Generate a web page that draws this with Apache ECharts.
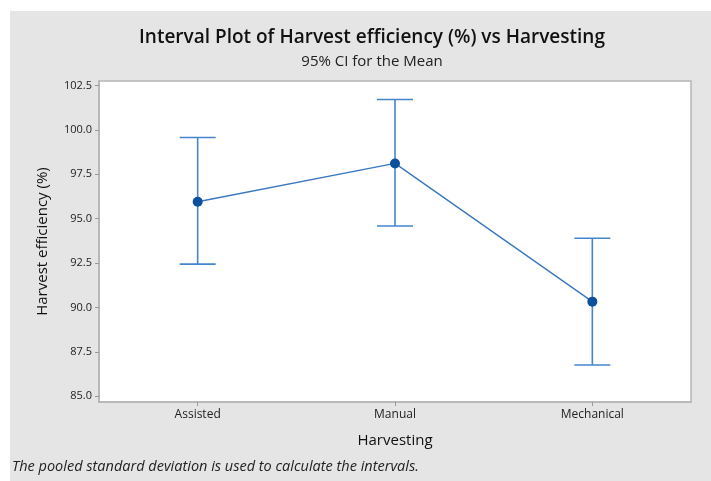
<!DOCTYPE html>
<html>
<head>
<meta charset="utf-8">
<script src="https://cdn.jsdelivr.net/npm/echarts@6/dist/echarts.min.js"></script>
<style>
  html, body { margin: 0; padding: 0; background: #fff; }
  #chart { width: 711px; height: 481px; }
</style>
</head>
<body>
<div id="chart"></div>
<script>
const categories = ["Assisted", "Manual", "Mechanical"];
const means = [95.95, 98.11, 90.33];
const lowerCI = [92.44, 94.59, 86.76];
const upperCI = [99.57, 101.71, 93.90];
const yTicks = [85, 87.5, 90, 92.5, 95, 97.5, 100, 102.5];

const fontFamily = "'Open Sans', 'Noto Sans', sans-serif";
const barColor = "#4585cb";
const lineColor = "#3b78c2";
const dotColor = "#0b4f9f";

const chart = echarts.init(document.getElementById("chart"));

const errorData = categories.map((c, i) => [i, lowerCI[i], upperCI[i]]);

chart.setOption({
  backgroundColor: "#fff",
  animation: false,
  graphic: [
    {
      type: "rect",
      z: -10,
      shape: { x: 10, y: 11, width: 701, height: 470 },
      style: { fill: "#e5e5e5" }
    },
    {
      type: "text",
      left: 12,
      top: 459,
      style: {
        text: "The pooled standard deviation is used to calculate the intervals.",
        font: "italic 14.5px " + fontFamily,
        fill: "#222"
      }
    }
  ],
  title: [
    {
      text: "Interval Plot of Harvest efficiency (%) vs Harvesting",
      left: 367,
      top: 23,
      textAlign: "center",
      textStyle: { fontFamily, fontSize: 19, fontWeight: 600, color: "#111" }
    },
    {
      text: "95% CI for the Mean",
      left: 367,
      top: 49,
      textAlign: "center",
      textStyle: { fontFamily, fontSize: 15, fontWeight: 500, color: "#222" }
    }
  ],
  grid: {
    left: 99,
    top: 81,
    right: 20,
    bottom: 79,
    show: true,
    backgroundColor: "#fff",
    borderColor: "#b5b5b5",
    borderWidth: 1.5
  },
  xAxis: {
    type: "category",
    data: categories,
    boundaryGap: true,
    name: "Harvesting",
    nameLocation: "middle",
    nameGap: 31,
    nameTextStyle: { fontFamily, fontSize: 15, fontWeight: 500, color: "#111" },
    axisLine: { show: true, lineStyle: { color: "#b5b5b5", width: 1.5 } },
    axisTick: { show: true, alignWithLabel: true, length: 4, lineStyle: { color: "#999" } },
    axisLabel: { fontFamily, fontSize: 12, color: "#222", margin: 7 },
    splitLine: { show: false }
  },
  yAxis: {
    type: "value",
    min: 84.68,
    max: 102.75,
    name: "Harvest efficiency (%)",
    nameLocation: "middle",
    nameGap: 49,
    nameTextStyle: { fontFamily, fontSize: 15, fontWeight: 500, color: "#111" },
    axisLine: { show: true, lineStyle: { color: "#b5b5b5", width: 1.5 } },
    axisTick: { show: true, length: 4, customValues: yTicks, lineStyle: { color: "#999" } },
    axisLabel: {
      fontFamily, fontSize: 11, color: "#222", margin: 7,
      customValues: yTicks,
      formatter: v => v.toFixed(1)
    },
    splitLine: { show: false }
  },
  series: [
    {
      type: "custom",
      name: "95% CI",
      data: errorData,
      z: 2,
      renderItem: function (params, api) {
        const x = api.value(0);
        const lo = api.coord([x, api.value(1)]);
        const hi = api.coord([x, api.value(2)]);
        const half = 18;
        const style = { stroke: barColor, lineWidth: 1.6, fill: null };
        return {
          type: "group",
          children: [
            { type: "line", shape: { x1: lo[0], y1: lo[1], x2: hi[0], y2: hi[1] }, style },
            { type: "line", shape: { x1: hi[0] - half, y1: hi[1], x2: hi[0] + half, y2: hi[1] }, style },
            { type: "line", shape: { x1: lo[0] - half, y1: lo[1], x2: lo[0] + half, y2: lo[1] }, style }
          ]
        };
      }
    },
    {
      type: "line",
      name: "Mean",
      data: means,
      z: 3,
      symbol: "circle",
      symbolSize: 10,
      itemStyle: { color: dotColor },
      lineStyle: { color: lineColor, width: 1.4 }
    }
  ]
});
</script>
</body>
</html>
